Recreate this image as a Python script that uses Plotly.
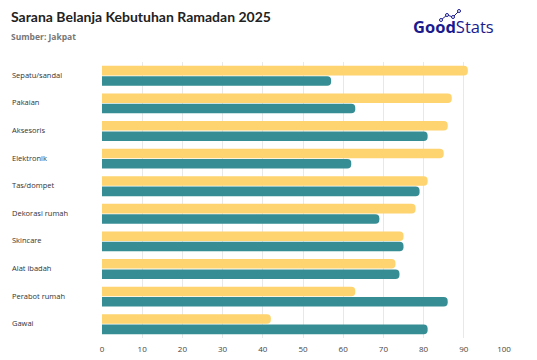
import plotly.graph_objects as go

categories = ["Sepatu/sandal", "Pakaian", "Aksesoris", "Elektronik", "Tas/dompet",
              "Dekorasi rumah", "Skincare", "Alat ibadah", "Perabot rumah", "Gawai"]
online = [91, 87, 86, 85, 81, 78, 75, 73, 63, 42]
offline = [57, 63, 81, 62, 79, 69, 75, 74, 86, 81]
x_ticks = [0, 10, 20, 30, 40, 50, 60, 70, 80, 90, 100]

YELLOW = "#FDD46F"
TEAL = "#368E94"

fig = go.Figure()
fig.add_trace(go.Bar(y=categories, x=online, orientation="h", name="Online",
                     marker=dict(color=YELLOW, line=dict(width=0), cornerradius=4)))
fig.add_trace(go.Bar(y=categories, x=offline, orientation="h", name="Offline",
                     marker=dict(color=TEAL, line=dict(width=0), cornerradius=4)))

W, H = 537, 360
L, R, T, B = 102, 504, 62, 338
PW, PH = R - L, B - T


def px(x):
    return (x - L) / PW


def py(y):
    return (B - y) / PH


fig.update_layout(
    width=W, height=H,
    margin=dict(l=L, r=W - R, t=T, b=H - B, pad=0, autoexpand=False),
    paper_bgcolor="white", plot_bgcolor="white",
    barmode="group", bargap=0.25, bargroupgap=0.08,
    showlegend=False,
    font=dict(family="Open Sans, sans-serif", color="#333333"),
    xaxis=dict(range=[0, 100], tickvals=x_ticks, showgrid=True, gridcolor="#E8E8E8",
               gridwidth=1, zeroline=False, showline=False, ticks="",
               ticklabelstandoff=5,
               tickfont=dict(size=8, color="#444444"), fixedrange=True),
    yaxis=dict(autorange="reversed", showticklabels=False, showgrid=False,
               zeroline=False, showline=False, ticks=""),
)

for c in categories:
    fig.add_annotation(x=px(10), xref="paper", y=c, yref="y", text=c, showarrow=False,
                       xanchor="left", yanchor="middle", yshift=1,
                       font=dict(size=7.5, color="#333333", family="Open Sans, sans-serif"))

fig.add_annotation(x=px(9), xref="paper", y=py(17), yref="paper",
                   text="<b>Sarana Belanja Kebutuhan Ramadan 2025</b>", showarrow=False,
                   xanchor="left", yanchor="middle",
                   font=dict(size=14, color="#222222", family="Lato, sans-serif"))
fig.add_annotation(x=px(9), xref="paper", y=py(37), yref="paper",
                   text="<b>Sumber: Jakpat</b>", showarrow=False,
                   xanchor="left", yanchor="middle",
                   font=dict(size=8.5, color="#777777", family="Open Sans, sans-serif"))
fig.add_annotation(x=px(411), xref="paper", y=py(26), yref="paper",
                   text="<b>Good</b>Stats", showarrow=False,
                   xanchor="left", yanchor="middle",
                   font=dict(size=16.5, color="#1B1B8F", family="Open Sans, sans-serif"))

# logo network icon
pts = [(441, 20), (447, 15), (453, 17), (459, 11)]
for (x0, y0), (x1, y1) in zip(pts[:-1], pts[1:]):
    fig.add_shape(type="line", xref="paper", yref="paper",
                  x0=px(x0), y0=py(y0), x1=px(x1), y1=py(y1),
                  line=dict(color="#1B1B8F", width=1))
for (x0, y0) in pts:
    fig.add_shape(type="circle", xref="paper", yref="paper",
                  x0=px(x0 - 1.5), y0=py(y0 + 1.5), x1=px(x0 + 1.5), y1=py(y0 - 1.5),
                  line=dict(color="#1B1B8F", width=1), fillcolor="white")

fig.write_html("out.html", config={"displayModeBar": False},
               post_script="document.body.style.margin='0';document.body.style.overflow='hidden';")
